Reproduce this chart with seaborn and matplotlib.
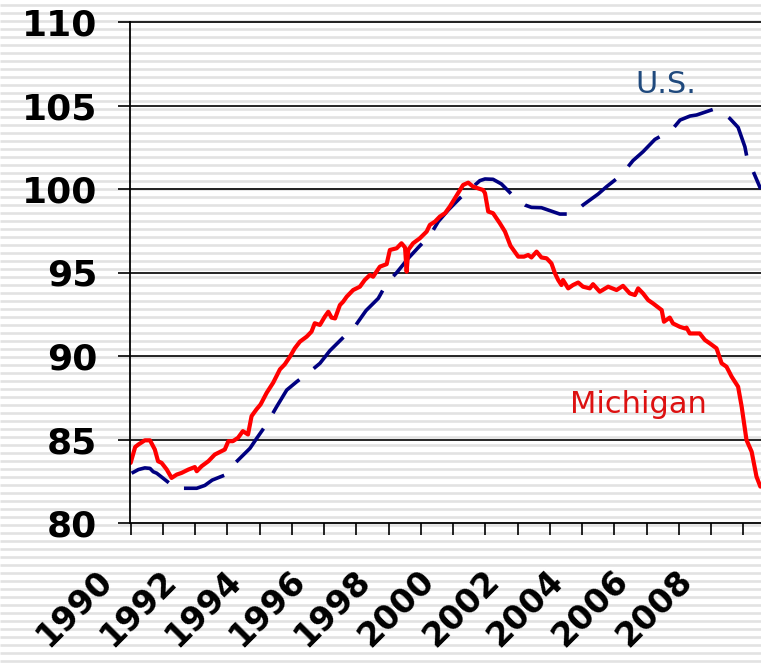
import numpy as np
import pandas as pd
import matplotlib
matplotlib.use("Agg")
import matplotlib.pyplot as plt
import matplotlib.transforms as mtransforms
import seaborn as sns

# Michigan index (red), decimal years
mi_year = [1990.00, 1990.14, 1990.24, 1990.44, 1990.60, 1990.75, 1990.85, 1990.96,
           1991.12, 1991.27, 1991.43, 1991.58, 1991.79, 1991.99, 1992.05, 1992.20,
           1992.41, 1992.61, 1992.82, 1992.92, 1993.03, 1993.17, 1993.33, 1993.48,
           1993.64, 1993.75, 1993.90, 1994.03, 1994.22, 1994.42, 1994.63, 1994.78,
           1994.94, 1995.09, 1995.25, 1995.46, 1995.61, 1995.71, 1995.87, 1996.02,
           1996.13, 1996.23, 1996.34, 1996.49, 1996.59, 1996.70, 1996.90, 1997.11,
           1997.26, 1997.42, 1997.52, 1997.73, 1997.94, 1998.04, 1998.25, 1998.40,
           1998.51, 1998.56, 1998.61, 1998.76, 1998.97, 1999.18, 1999.28, 1999.44,
           1999.59, 1999.75, 1999.90, 2000.06, 2000.16, 2000.31, 2000.47, 2000.62,
           2000.78, 2000.93, 2000.99, 2001.09, 2001.24, 2001.45, 2001.61, 2001.78,
           2002.02, 2002.20, 2002.33, 2002.43, 2002.59, 2002.74, 2002.90, 2003.05,
           2003.16, 2003.26, 2003.36, 2003.41, 2003.57, 2003.72, 2003.88, 2004.03,
           2004.24, 2004.34, 2004.55, 2004.81, 2005.07, 2005.27, 2005.48, 2005.64,
           2005.74, 2005.89, 2006.05, 2006.20, 2006.47, 2006.54, 2006.72, 2006.82,
           2007.03, 2007.19, 2007.24, 2007.34, 2007.65, 2007.81, 2007.96, 2008.17,
           2008.33, 2008.48, 2008.64, 2008.84, 2008.95, 2009.10, 2009.26, 2009.41,
           2009.53]
mi_value = [83.6, 84.55, 84.7, 84.95, 84.95, 84.4, 83.7, 83.6,
            83.2, 82.7, 82.9, 83.0, 83.2, 83.35, 83.1, 83.4,
            83.7, 84.1, 84.3, 84.4, 84.9, 84.9, 85.1, 85.5,
            85.3, 86.4, 86.8, 87.1, 87.8, 88.4, 89.2, 89.5,
            89.96, 90.46, 90.86, 91.16, 91.46, 91.96, 91.86, 92.35,
            92.65, 92.3, 92.25, 93.05, 93.25, 93.55, 93.95, 94.15,
            94.55, 94.85, 94.75, 95.35, 95.5, 96.35, 96.45, 96.75,
            96.5, 95.05, 96.35, 96.75, 97.05, 97.45, 97.85, 98.05,
            98.35, 98.55, 98.95, 99.45, 99.75, 100.24, 100.38, 100.14,
            100.04, 99.94, 99.75, 98.65, 98.55, 97.95, 97.45, 96.6,
            95.95, 95.95, 96.05, 95.9, 96.25, 95.9, 95.85, 95.55,
            94.95, 94.55, 94.25, 94.55, 94.05, 94.25, 94.4, 94.15,
            94.05, 94.3, 93.85, 94.15, 93.95, 94.2, 93.75, 93.65,
            94.05, 93.75, 93.35, 93.15, 92.75, 92.05, 92.3, 91.95,
            91.75, 91.65, 91.7, 91.35, 91.35, 90.96, 90.76, 90.46,
            89.56, 89.36, 88.76, 88.16, 86.97, 84.97, 84.27, 82.78,
            82.18]

# U.S. index (navy, dashed)
us_year = [1990.03, 1990.24, 1990.44, 1990.60, 1990.70, 1990.81, 1991.27, 1991.32,
           1992.05, 1992.30, 1992.53, 1992.92, 1993.23, 1993.70, 1993.91, 1994.22,
           1994.53, 1994.84, 1995.15, 1995.56, 1995.87, 1996.18, 1996.64, 1996.95,
           1997.30, 1997.68, 1997.94, 1998.25, 1998.61, 1998.97, 1999.28, 1999.54,
           1999.85, 2000.21, 2000.68, 2000.83, 2000.99, 2001.24, 2001.50, 2001.97,
           2002.23, 2002.43, 2002.74, 2003.31, 2003.72, 2004.03, 2004.50, 2004.76,
           2005.22, 2005.58, 2005.89, 2006.26, 2006.78, 2007.04, 2007.35, 2007.55,
           2008.07, 2008.38, 2008.58, 2008.84, 2009.05, 2009.15, 2009.31, 2009.54]
us_value = [82.98, 83.2, 83.3, 83.27, 83.07, 82.98, 82.28, 82.08,
            82.08, 82.25, 82.57, 82.87, 83.57, 84.47, 85.07, 85.93,
            86.97, 87.96, 88.46, 89.06, 89.56, 90.32, 91.2, 91.76,
            92.72, 93.45, 94.35, 94.99, 95.85, 96.6, 97.2, 98.05,
            98.74, 99.45, 100.24, 100.5, 100.6, 100.58, 100.3, 99.38,
            99.04, 98.9, 98.88, 98.5, 98.5, 99.04, 99.7, 100.14,
            100.84, 101.7, 102.23, 102.97, 103.53, 104.13, 104.37, 104.43,
            104.77, 104.53, 104.23, 103.69, 102.53, 101.54, 101.04, 100.0]

year_ticks = list(range(1990, 2010))
year_labels = [str(y) if y % 2 == 0 else "" for y in year_ticks]
y_ticks = [80, 85, 90, 95, 100, 105, 110]

mi = pd.DataFrame({"year": mi_year, "index": mi_value})
us = pd.DataFrame({"year": us_year, "index": us_value})

sns.set_style("ticks")
plt.rcParams["font.family"] = ["DejaVu Sans"]
plt.rcParams["text.color"] = "black"
plt.rcParams["xtick.color"] = "black"
plt.rcParams["ytick.color"] = "black"

W, H = 761, 663
fig = plt.figure(figsize=(W / 100, H / 100), dpi=100)
fig.patch.set_facecolor("white")

# striped background
bg = fig.add_axes([0, 0, 1, 1], zorder=-1)
bg.set_xlim(0, W)
bg.set_ylim(H, 0)
bg.hlines(np.arange(5, H, 8), 0, W, color="#e2e2e2", lw=1.9)
bg.axis("off")

ax = fig.add_axes([130 / W, 1 - 523 / H, 1 - 130 / W, 501 / H])
ax.set_facecolor("none")

sns.lineplot(data=us, x="year", y="index", ax=ax, color="#000080", lw=2.6, errorbar=None)
ax.lines[-1].set_dashes((12, 5))
sns.lineplot(data=mi, x="year", y="index", ax=ax, color="#ff0000", lw=3.0, errorbar=None)

ax.set_xlim(1989.98, 2009.55)
ax.set_ylim(80, 110)
ax.set_xticks(year_ticks)
ax.set_xticklabels(year_labels)
ax.set_yticks(y_ticks)
ax.set_xlabel("")
ax.set_ylabel("")

for yv in y_ticks[1:]:
    ax.axhline(yv, color="black", lw=1.2, zorder=1, clip_on=False)

for s in ["top", "right"]:
    ax.spines[s].set_visible(False)
for s in ["left", "bottom"]:
    ax.spines[s].set_color("black")
    ax.spines[s].set_linewidth(1.3)

ax.tick_params(axis="y", direction="out", length=8.6, width=1.2, colors="black",
               pad=15, labelsize=26)
ax.tick_params(axis="x", direction="out", length=8.6, width=1.2, colors="black",
               pad=21, labelsize=24)
for lab in ax.get_yticklabels():
    lab.set_fontweight("bold")
offset = mtransforms.ScaledTranslation(-0.12, 0, fig.dpi_scale_trans)
for lab in ax.get_xticklabels():
    lab.set_fontweight("bold")
    lab.set_rotation(45)
    lab.set_ha("right")
    lab.set_va("top")
    lab.set_transform(lab.get_transform() + offset)

ax.text(2005.64, 105.75, "U.S.", color="#1f497d", fontsize=22, ha="left", va="baseline")
ax.text(2003.62, 86.59, "Michigan", color="#dd1111", fontsize=22, ha="left", va="baseline")

fig.savefig("out.png", dpi=100, facecolor="white")
